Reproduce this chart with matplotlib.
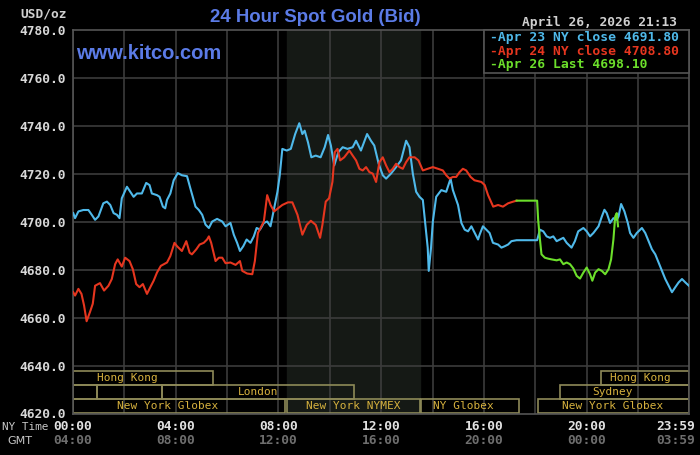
import matplotlib
matplotlib.use('Agg')
import matplotlib.pyplot as plt
import matplotlib.transforms as mtransforms
from matplotlib.patches import Rectangle

# hours are NY time, prices in USD/oz
apr23_hours = [0.01, 0.08, 0.21, 0.40, 0.60, 0.73, 0.86, 0.99, 1.18, 1.32, 1.45, 1.58, 1.71, 1.81,
               1.90, 2.10, 2.23, 2.36, 2.49, 2.68, 2.85, 2.98, 3.07, 3.27, 3.37, 3.50, 3.59, 3.66,
               3.79, 3.92, 4.08, 4.24, 4.44, 4.57, 4.77, 4.90, 5.03, 5.16, 5.29, 5.42, 5.61, 5.81,
               5.94, 6.13, 6.26, 6.39, 6.50, 6.63, 6.76, 6.91, 7.04, 7.15, 7.28, 7.43, 7.56, 7.69,
               7.83, 7.96, 8.05, 8.15, 8.32, 8.48, 8.65, 8.81, 8.93, 9.02, 9.15, 9.28, 9.45, 9.64,
               9.80, 9.93, 10.04, 10.17, 10.33, 10.50, 10.69, 10.89, 11.02, 11.21, 11.45, 11.60,
               11.73, 11.90, 12.06, 12.19, 12.38, 12.58, 12.77, 12.97, 13.10, 13.23, 13.36, 13.49,
               13.62, 13.72, 13.81, 13.85, 13.94, 14.01, 14.14, 14.34, 14.53, 14.70, 14.79, 14.99,
               15.12, 15.25, 15.38, 15.51, 15.64, 15.77, 15.83, 15.96, 16.09, 16.22, 16.35, 16.55,
               16.68, 16.81, 16.94, 17.07, 17.27, 18.07, 18.18, 18.31, 18.44, 18.57, 18.70, 18.83,
               18.96, 19.09, 19.22, 19.41, 19.54, 19.67, 19.87, 20.00, 20.13, 20.26, 20.46, 20.59,
               20.69, 20.78, 20.91, 21.04, 21.17, 21.24, 21.34, 21.47, 21.60, 21.69, 21.82, 21.95,
               22.15, 22.28, 22.41, 22.54, 22.67, 22.80, 22.93, 23.06, 23.19, 23.32, 23.45, 23.58,
               23.71, 23.84, 23.98]
apr23_price = [4703.6, 4701.5, 4704.3, 4704.9, 4704.9, 4702.9, 4700.8, 4702.2, 4707.7, 4708.4,
               4707.0, 4703.6, 4702.9, 4701.5, 4709.8, 4714.6, 4712.5, 4710.4, 4711.8, 4711.8,
               4716.2, 4715.3, 4711.8, 4711.1, 4710.4, 4706.3, 4705.6, 4709.1, 4711.8, 4717.3,
               4720.3, 4719.4, 4719.0, 4713.9, 4706.3, 4704.9, 4702.9, 4698.8, 4697.4, 4700.1,
               4701.2, 4700.1, 4698.1, 4699.5, 4694.6, 4691.2, 4687.8, 4689.8, 4692.6, 4691.2,
               4693.9, 4697.4, 4696.7, 4699.5, 4700.1, 4698.1, 4705.6, 4712.5, 4719.4, 4730.4,
               4729.7, 4730.4, 4736.6, 4741.1, 4736.6, 4738.0, 4733.1, 4726.9, 4727.6, 4726.9,
               4731.1, 4736.2, 4731.8, 4723.5, 4729.0, 4731.1, 4730.4, 4731.1, 4733.8, 4729.7,
               4736.6, 4733.8, 4731.8, 4724.2, 4719.4, 4718.0, 4720.1, 4722.8, 4725.6, 4733.8,
               4731.1, 4720.1, 4712.5, 4710.4, 4709.1, 4698.8, 4689.2, 4679.5, 4689.2, 4700.1,
               4710.4, 4713.2, 4712.5, 4718.0, 4713.2, 4707.0, 4699.5, 4696.7, 4696.0, 4698.1,
               4695.3, 4692.6, 4694.6, 4698.1, 4696.7, 4695.3, 4691.2, 4690.5, 4689.2, 4689.8,
               4690.5, 4691.9, 4692.3, 4692.3, 4696.7, 4696.0, 4693.9, 4693.3, 4693.9, 4691.9,
               4692.6, 4693.3, 4691.2, 4689.2, 4691.9, 4696.0, 4697.4, 4696.0, 4693.9, 4695.3,
               4698.1, 4702.2, 4705.0, 4703.6, 4699.5, 4701.5, 4700.8, 4702.2, 4707.4, 4704.3,
               4699.5, 4695.3, 4693.3, 4695.3, 4697.4, 4695.3, 4691.9, 4688.5, 4686.4, 4683.0,
               4679.5, 4676.1, 4673.3, 4670.6, 4672.7, 4674.7, 4676.1, 4674.7, 4673.3]

apr24_hours = [0.01, 0.08, 0.21, 0.33, 0.43, 0.53, 0.66, 0.77, 0.86, 1.05, 1.21, 1.38, 1.51, 1.64,
               1.74, 1.90, 2.03, 2.20, 2.33, 2.46, 2.59, 2.72, 2.88, 3.01, 3.14, 3.27, 3.42, 3.66,
               3.79, 3.95, 4.05, 4.24, 4.41, 4.54, 4.63, 4.80, 4.93, 5.09, 5.22, 5.29, 5.38, 5.55,
               5.68, 5.81, 5.94, 6.13, 6.33, 6.50, 6.59, 6.78, 6.98, 7.08, 7.20, 7.30, 7.43, 7.56,
               7.69, 7.83, 7.98, 8.15, 8.37, 8.54, 8.74, 8.93, 9.10, 9.26, 9.45, 9.62, 9.71, 9.84,
               9.97, 10.10, 10.19, 10.30, 10.40, 10.56, 10.76, 10.89, 11.02, 11.15, 11.28, 11.41,
               11.54, 11.67, 11.80, 11.93, 12.06, 12.19, 12.32, 12.45, 12.58, 12.71, 12.84, 12.97,
               13.10, 13.30, 13.45, 13.62, 13.81, 14.01, 14.21, 14.40, 14.53, 14.66, 14.79, 14.92,
               15.05, 15.18, 15.31, 15.48, 15.63, 15.90, 16.03, 16.16, 16.36, 16.55, 16.74, 16.94,
               17.14, 17.27]
apr24_price = [4670.6, 4669.2, 4672.0, 4669.9, 4665.1, 4658.5, 4662.3, 4665.8, 4673.3, 4674.4,
               4671.3, 4673.3, 4676.1, 4682.3, 4684.3, 4681.3, 4685.0, 4683.6, 4680.2, 4674.0,
               4672.7, 4674.0, 4669.9, 4672.7, 4675.4, 4678.8, 4681.6, 4683.0, 4685.7, 4691.2,
               4689.8, 4687.8, 4691.9, 4687.1, 4686.4, 4688.5, 4690.5, 4691.2, 4692.6, 4693.9,
               4691.2, 4683.6, 4685.0, 4685.0, 4682.7, 4683.0, 4682.0, 4683.6, 4679.5, 4678.4,
               4678.1, 4683.6, 4695.3, 4697.4, 4700.1, 4711.1, 4707.0, 4704.3, 4705.6, 4707.0,
               4708.1, 4708.1, 4702.9, 4694.6, 4698.7, 4700.4, 4698.7, 4693.3, 4698.7, 4708.4,
               4709.8, 4716.6, 4729.0, 4730.4, 4725.6, 4726.9, 4729.7, 4727.6, 4725.6, 4722.1,
               4721.4, 4722.8, 4720.7, 4720.1, 4716.6, 4724.9, 4726.9, 4723.5, 4720.7, 4722.1,
               4724.2, 4722.8, 4722.1, 4724.9, 4726.9, 4726.9, 4725.6, 4721.4, 4722.1, 4722.8,
               4722.1, 4721.4, 4719.4, 4718.0, 4718.7, 4718.7, 4720.7, 4722.1, 4721.4, 4718.7,
               4717.3, 4716.6, 4715.3, 4711.1, 4706.3, 4707.0, 4706.3, 4707.7, 4708.4, 4708.8]

apr26_hours = [17.27, 18.07, 18.11, 18.18, 18.24, 18.37, 18.50, 18.63, 18.83, 18.96, 19.09, 19.22,
               19.35, 19.48, 19.61, 19.74, 19.87, 20.00, 20.13, 20.22, 20.33, 20.46, 20.59, 20.72,
               20.85, 20.95, 21.04, 21.11, 21.17, 21.22]
apr26_price = [4708.8, 4708.8, 4700.8, 4692.6, 4686.4, 4685.0, 4684.6, 4684.3, 4683.9, 4684.3,
               4682.3, 4683.0, 4682.3, 4680.5, 4677.4, 4676.3, 4678.8, 4680.9, 4678.1, 4675.4,
               4678.8, 4680.2, 4679.5, 4678.1, 4680.2, 4684.3, 4692.6, 4702.2, 4703.6, 4698.1]

legend_labels = ['-Apr 23 NY close 4691.80', '-Apr 24 NY close 4708.80', '-Apr 26 Last 4698.10']

# market sessions: (label, start hour, end hour, row, label hour)
sessions = [
    ('Hong Kong', 0.0, 5.47, 0, 2.1),
    ('Hong Kong', 20.55, 23.98, 0, 22.1),
    ('', 0.0, 0.94, 1, None),
    ('', 0.94, 3.48, 1, None),
    ('London', 3.48, 10.94, 1, 7.2),
    ('Sydney', 18.98, 23.98, 1, 21.0),
    ('New York Globex', 0.0, 8.25, 2, 3.67),
    ('New York NYMEX', 8.33, 13.52, 2, 10.93),
    ('NY Globex', 13.55, 17.37, 2, 15.2),
    ('New York Globex', 18.09, 23.98, 2, 21.0),
]
nymex_open, nymex_close = 8.33, 13.52

ny_ticks = [0, 4, 8, 12, 16, 20, 23.983]
ny_labels = ['00:00', '04:00', '08:00', '12:00', '16:00', '20:00', '23:59']
gmt_labels = ['04:00', '08:00', '12:00', '16:00', '20:00', '00:00', '03:59']

BLUE = '#4fb9ea'
RED = '#e6361f'
GREEN = '#6cdf2b'
GRID = '#3c3c3c'
MONO = 'DejaVu Sans Mono'

fig = plt.figure(figsize=(7, 4.55), dpi=100, facecolor='black')
ax = fig.add_axes([73/700, 41.5/455, 616/700, 383.5/455])
ax.set_facecolor('black')
ax.set_xlim(0, 23.983)
ax.set_ylim(4620, 4780)

# NYMEX pit hours shading
ax.axvspan(nymex_open, nymex_close, color='#151915', zorder=0)

for h in range(0, 24, 2):
    ax.axvline(h, color=GRID, lw=1.2, zorder=1)
for v in range(4640, 4780, 20):
    ax.axhline(v, color=GRID, lw=1.2, zorder=1)

for s in ax.spines.values():
    s.set_color('#555555')
    s.set_linewidth(1.2)

# session boxes
row_edges = [(4632.0, 4637.7), (4626.1, 4632.0), (4620.3, 4626.1)]
for label, start, end, row, lh in sessions:
    lo, hi = row_edges[row]
    ax.add_patch(Rectangle((start, lo), end - start, hi - lo, fill=False,
                           edgecolor='#8e8a58', lw=1.2, zorder=2))
    if label:
        ax.text(lh, (lo + hi) / 2, label, color='#d6b13e', fontsize=8, family=MONO,
                ha='center', va='center', zorder=3)

ax.plot(apr23_hours, apr23_price, color=BLUE, lw=1.5, zorder=4)
ax.plot(apr24_hours, apr24_price, color=RED, lw=1.5, zorder=5)
ax.plot(apr26_hours, apr26_price, color=GREEN, lw=1.5, zorder=6)

ax.set_yticks(range(4620, 4781, 20))
ax.set_yticklabels(['%.1f' % v for v in range(4620, 4781, 20)])
ax.tick_params(axis='y', length=0, pad=5, labelcolor='#d8d8d8', labelsize=9.3)
for t in ax.get_yticklabels():
    t.set_family(MONO)
    t.set_fontweight('bold')
ax.set_xticks([])

# time labels under the plot
tr = mtransforms.blended_transform_factory(ax.transData, fig.transFigure)
for h, ny, gmt in zip(ny_ticks, ny_labels, gmt_labels):
    ha = 'right' if h > 23 else 'center'
    x = h + 0.25 if h > 23 else h
    ax.text(x, 1 - 427/455, ny, transform=tr, ha=ha, va='center', color='#e2e2e2',
            fontsize=9.3, family=MONO, fontweight='bold')
    ax.text(x, 1 - 441/455, gmt, transform=tr, ha=ha, va='center', color='#6e6e6e',
            fontsize=9.3, family=MONO, fontweight='bold')
fig.text(2/700, 1 - 427/455, 'NY Time', ha='left', va='center', color='#c8c8c8',
         fontsize=7.9, family=MONO)
fig.text(20/700, 1 - 441/455, 'GMT', ha='center', va='center', color='#c8c8c8',
         fontsize=8, family='DejaVu Sans')

# header texts
fig.text(67/700, 1 - 14/455, 'USD/oz', ha='right', va='center', color='#d0d0d0',
         fontsize=9.3, family=MONO, fontweight='bold')
fig.text(315/700, 1 - 17/455, '24 Hour Spot Gold (Bid)', ha='center', va='center',
         color='#5b7be6', fontsize=13.4, family='Liberation Sans', fontweight='bold')
fig.text(677/700, 1 - 22/455, 'April 26, 2026 21:13', ha='right', va='center',
         color='#d0d0d0', fontsize=9.3, family=MONO, fontweight='bold')
ax.text(0.1, 4770.4, 'www.kitco.com', ha='left', va='center', color='#5b7be6',
        fontsize=14.5, family='Liberation Sans', fontweight='bold', zorder=7)

# legend box
leg = Rectangle((484/700, 1 - 73/455), 205/700, 43/455, transform=fig.transFigure,
                facecolor='black', edgecolor='#555555', lw=1.2, zorder=8)
fig.patches.append(leg)
for i, (txt, col) in enumerate(zip(legend_labels, [BLUE, RED, GREEN])):
    fig.text(490/700, 1 - (37.3 + 13.8 * i)/455, txt, ha='left', va='center', color=col,
             fontsize=9.4, family=MONO, fontweight='bold', zorder=9)

fig.savefig('out.png', dpi=100, facecolor='black')
